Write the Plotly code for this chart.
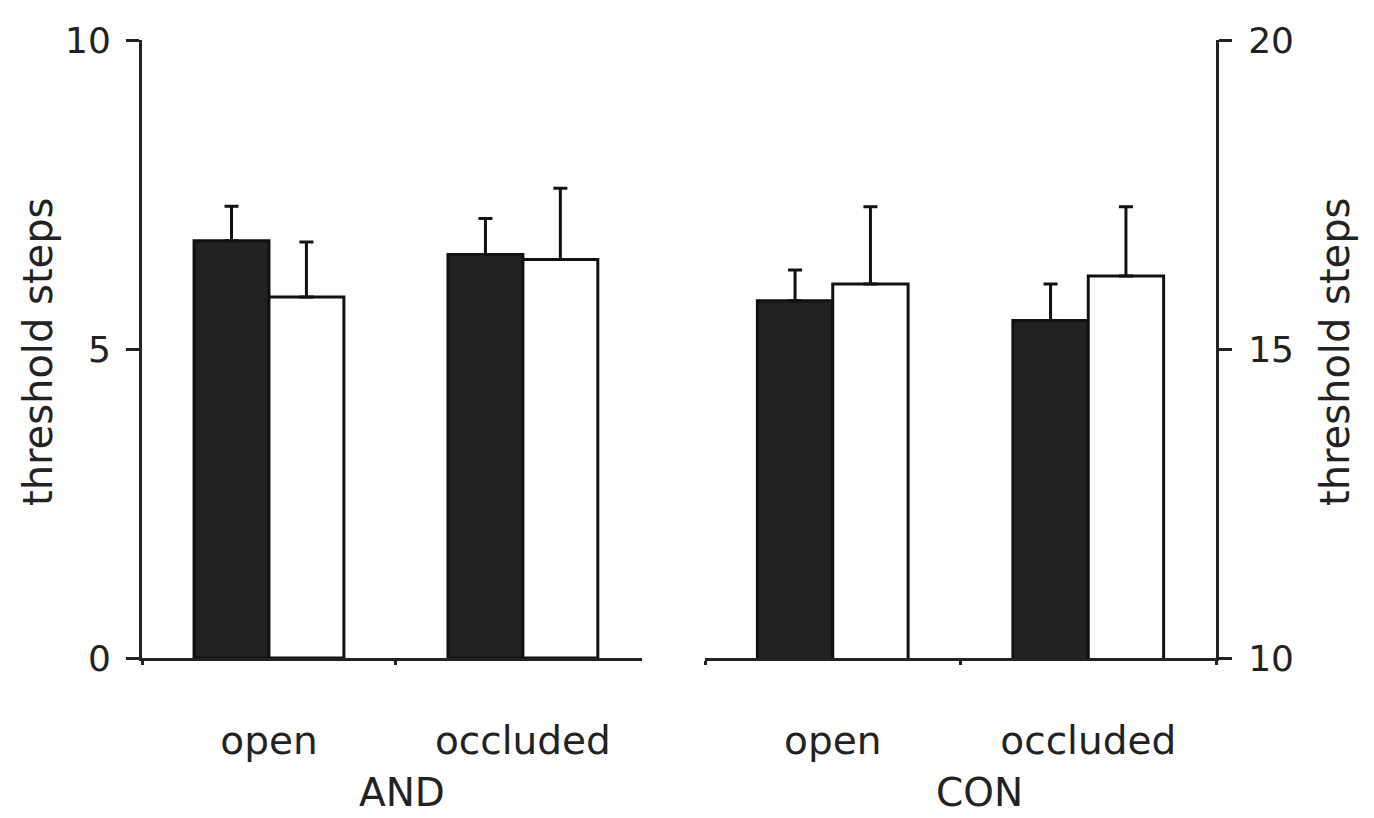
import plotly.graph_objects as go

# ---- data ----
categories = ["open", "occluded"]

and_black = [6.75, 6.53]
and_black_err = [0.56, 0.58]
and_white = [5.84, 6.45]
and_white_err = [0.89, 1.15]

con_black = [15.78, 15.46]
con_black_err = [0.50, 0.59]
con_white = [16.05, 16.18]
con_white_err = [1.25, 1.12]

left_ticks = [0, 5, 10]
right_ticks = [10, 15, 20]

# page body has an 8px margin; size the figure to fit the window
OFF = 8
W, H = 1374 - OFF, 818 - OFF
FONT = dict(family="DejaVu Sans", size=39, color="#222222")
TICKFONT = dict(family="DejaVu Sans", size=36, color="#222222")
INK = "#222222"

def px(x):
    return (x - OFF) / W

def py(y):
    return 1 - (y - OFF) / H

fig = go.Figure()

def bar(x, y, err, fill, xa, ya, name):
    return go.Bar(
        x=x, y=y, name=name, xaxis=xa, yaxis=ya,
        marker=dict(color=fill, line=dict(color="#111111", width=3)),
        error_y=dict(type="data", symmetric=False, array=err,
                     arrayminus=[0] * len(err), color="#111111",
                     thickness=3, width=7),
        showlegend=False,
    )

fig.add_trace(bar(categories, and_black, and_black_err, "#222222", "x", "y", "group 1"))
fig.add_trace(bar(categories, and_white, and_white_err, "#ffffff", "x", "y", "group 2"))
fig.add_trace(bar(categories, con_black, con_black_err, "#222222", "x2", "y2", "group 1"))
fig.add_trace(bar(categories, con_white, con_white_err, "#ffffff", "x2", "y2", "group 2"))

ydom = [py(658), py(40)]

xcommon = dict(type="category", showline=True, linecolor=INK, linewidth=3,
               ticks="outside", ticklen=4, tickwidth=3, tickcolor=INK,
               tickson="boundaries", showgrid=False, zeroline=False,
               tickfont=FONT, ticklabelstandoff=46, fixedrange=True,
               automargin=False)
ycommon = dict(showline=True, linecolor=INK, linewidth=3, ticks="outside",
               ticklen=13, tickwidth=3, tickcolor=INK, showgrid=False,
               zeroline=False, tickfont=TICKFONT, domain=ydom, fixedrange=True,
               automargin=False)

fig.update_layout(
    width=W, height=H,
    margin=dict(l=0, r=0, t=0, b=0, pad=0),
    paper_bgcolor="white", plot_bgcolor="white",
    barmode="group", bargap=0.41, bargroupgap=0,
    font=FONT,
    xaxis=dict(xcommon, domain=[px(142), px(642)], range=[-0.5, 1.469], anchor="y"),
    xaxis2=dict(xcommon, domain=[px(705), px(1216)], range=[-0.5, 1.5], anchor="y2"),
    yaxis=dict(ycommon, range=[0, 10], tickvals=left_ticks, anchor="x",
               ticklabelstandoff=8),
    yaxis2=dict(ycommon, range=[10, 20], tickvals=right_ticks, anchor="x2",
                side="right", ticklabelstandoff=9),
    annotations=[
        dict(text="AND", x=px(402), y=py(792), xref="paper", yref="paper",
             showarrow=False, font=FONT, xanchor="center", yanchor="middle",
             borderpad=0),
        dict(text="CON", x=px(979), y=py(792), xref="paper", yref="paper",
             showarrow=False, font=FONT, xanchor="center", yanchor="middle",
             borderpad=0),
        dict(text="threshold steps", x=px(38), y=py(352), xref="paper", yref="paper",
             showarrow=False, font=dict(FONT, size=40), textangle=-90,
             xanchor="center", yanchor="middle"),
        dict(text="threshold steps", x=px(1335), y=py(352), xref="paper", yref="paper",
             showarrow=False, font=dict(FONT, size=40), textangle=-90,
             xanchor="center", yanchor="middle"),
    ],
)

fig.write_html("out.html")
